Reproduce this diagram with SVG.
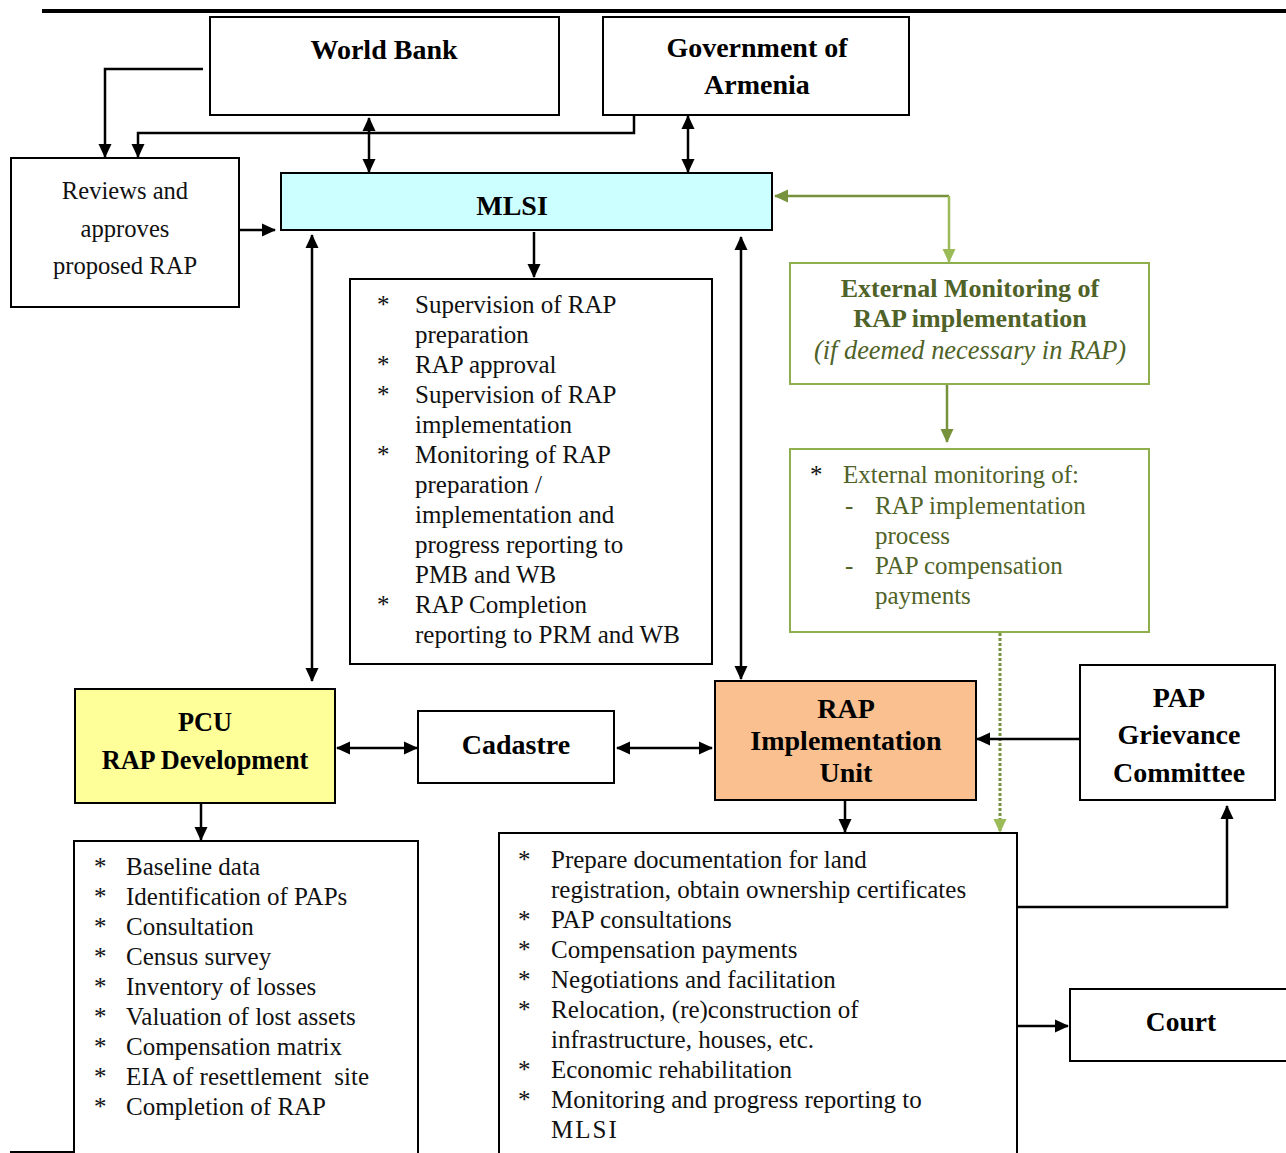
<svg xmlns="http://www.w3.org/2000/svg" width="1286" height="1153" viewBox="0 0 1286 1153">
<style>
.box{fill:#fff;stroke:#000;stroke-width:2}
.gbox{fill:#fff;stroke:#8faf4f;stroke-width:2}
.h{font-family:"Liberation Serif",serif;font-weight:bold;font-size:28px;text-anchor:middle;fill:#000}
.t{font-family:"Liberation Serif",serif;font-size:25px;fill:#111}
.g{fill:#4f6228}
.c{stroke:#000;stroke-width:2.5;fill:none}
</style>
<defs>
<marker id="ah" markerUnits="userSpaceOnUse" markerWidth="14" markerHeight="14" refX="13" refY="6.5" orient="auto-start-reverse" viewBox="0 0 14 13">
<path d="M0,0 L14,6.5 L0,13 z" fill="#000"/>
</marker>
<marker id="ahg" markerUnits="userSpaceOnUse" markerWidth="14" markerHeight="14" refX="13" refY="6.5" orient="auto-start-reverse" viewBox="0 0 14 13">
<path d="M0,0 L14,6.5 L0,13 z" fill="#76923c"/>
</marker>
<marker id="ahl" markerUnits="userSpaceOnUse" markerWidth="14" markerHeight="14" refX="13" refY="6.5" orient="auto-start-reverse" viewBox="0 0 14 13">
<path d="M0,0 L14,6.5 L0,13 z" fill="#9bbb59"/>
</marker>
</defs>

<line x1="42" y1="11" x2="1286" y2="11" stroke="#000" stroke-width="4"/>
<line x1="10" y1="1152" x2="74" y2="1152" stroke="#000" stroke-width="2"/>

<g id="connectors">
<path class="c" d="M203,69 L105,69 L105,157" marker-end="url(#ah)"/>
<path class="c" d="M634,115 L634,133 L138,133 L138,157" marker-end="url(#ah)"/>
<path class="c" d="M369,118 L369,172" marker-start="url(#ah)" marker-end="url(#ah)"/>
<path class="c" d="M688,116 L688,172" marker-start="url(#ah)" marker-end="url(#ah)"/>
<path class="c" d="M239,230 L275,230" marker-end="url(#ah)"/>
<path class="c" d="M534,232 L534,277" marker-end="url(#ah)"/>
<path class="c" d="M312,235 L312,681" marker-start="url(#ah)" marker-end="url(#ah)"/>
<path class="c" d="M741,237 L741,679" marker-start="url(#ah)" marker-end="url(#ah)"/>
<path d="M949,196 L775,196" stroke="#76923c" stroke-width="2.5" fill="none" marker-end="url(#ahg)"/>
<path d="M949,196 L949,262" stroke="#9bbb59" stroke-width="2.5" fill="none" marker-end="url(#ahl)"/>
<path d="M947,384 L947,442" stroke="#76923c" stroke-width="2.5" fill="none" marker-end="url(#ahg)"/>
<path d="M1000,633 L1000,832" stroke="#76923c" stroke-width="3" stroke-dasharray="3,2" fill="none" marker-end="url(#ahl)"/>
<path class="c" d="M337,748 L417,748" marker-start="url(#ah)" marker-end="url(#ah)"/>
<path class="c" d="M617,748 L712,748" marker-start="url(#ah)" marker-end="url(#ah)"/>
<path class="c" d="M1080,739 L977,739" marker-end="url(#ah)"/>
<path class="c" d="M845,801 L845,832" marker-end="url(#ah)"/>
<path class="c" d="M201,804 L201,840" marker-end="url(#ah)"/>
<path class="c" d="M1017,907 L1227,907 L1227,806" marker-end="url(#ah)"/>
<path class="c" d="M1017,1026 L1068,1026" marker-end="url(#ah)"/>
</g>

<g id="world-bank">
<rect class="box" x="210" y="17" width="349" height="98"/>
<text class="h" x="384" y="59">World Bank</text>
</g>

<g id="government">
<rect class="box" x="603" y="17" width="306" height="98"/>
<text class="h" x="757" y="57">Government of</text>
<text class="h" x="757" y="94">Armenia</text>
</g>

<g id="reviews">
<rect class="box" x="11" y="158" width="228" height="149"/>
<text class="t" x="125" y="199" style="font-size:24.6px;text-anchor:middle">Reviews and</text>
<text class="t" x="125" y="237" style="font-size:24.6px;text-anchor:middle">approves</text>
<text class="t" x="125" y="274" style="font-size:24.6px;text-anchor:middle">proposed RAP</text>
</g>

<g id="mlsi">
<rect x="281" y="173" width="491" height="57" fill="#ccffff" stroke="#000" stroke-width="2"/>
<text class="h" x="512" y="215">MLSI</text>
</g>

<g id="mlsi-tasks">
<rect class="box" x="350" y="279" width="362" height="385"/>
<g class="t">
<text x="377" y="313">*</text><text x="415" y="313">Supervision of RAP</text>
<text x="415" y="343">preparation</text>
<text x="377" y="373">*</text><text x="415" y="373">RAP approval</text>
<text x="377" y="403">*</text><text x="415" y="403">Supervision of RAP</text>
<text x="415" y="433">implementation</text>
<text x="377" y="463">*</text><text x="415" y="463">Monitoring of RAP</text>
<text x="415" y="493">preparation /</text>
<text x="415" y="523">implementation and</text>
<text x="415" y="553">progress reporting to</text>
<text x="415" y="583">PMB and WB</text>
<text x="377" y="613">*</text><text x="415" y="613">RAP Completion</text>
<text x="415" y="643">reporting to PRM and WB</text>
</g>
</g>

<g id="external-monitoring">
<rect class="gbox" x="790" y="263" width="359" height="121"/>
<text class="h g" x="970" y="297" style="font-size:26px">External Monitoring of</text>
<text class="h g" x="970" y="327" style="font-size:26px">RAP implementation</text>
<text class="t g" x="970" y="359" style="font-size:26.4px;font-style:italic;text-anchor:middle">(if deemed necessary in RAP)</text>
</g>

<g id="external-monitoring-tasks">
<rect class="gbox" x="790" y="449" width="359" height="183"/>
<g class="t g">
<text x="810" y="483" style="fill:#111">*</text><text x="843" y="483">External monitoring of:</text>
<text x="845" y="514">-</text><text x="875" y="514">RAP implementation</text>
<text x="875" y="544">process</text>
<text x="845" y="574">-</text><text x="875" y="574">PAP compensation</text>
<text x="875" y="604">payments</text>
</g>
</g>

<g id="pcu">
<rect x="75" y="689" width="260" height="114" fill="#ffff99" stroke="#000" stroke-width="2"/>
<text class="h" x="205" y="731" style="font-size:26.3px">PCU</text>
<text class="h" x="205" y="769" style="font-size:26.3px">RAP Development</text>
</g>

<g id="cadastre">
<rect class="box" x="418" y="711" width="196" height="72"/>
<text class="h" x="516" y="754">Cadastre</text>
</g>

<g id="rap-iu">
<rect x="715" y="681" width="261" height="119" fill="#fac090" stroke="#000" stroke-width="2"/>
<text class="h" x="846" y="718">RAP</text>
<text class="h" x="846" y="750">Implementation</text>
<text class="h" x="846" y="782">Unit</text>
</g>

<g id="grievance">
<rect class="box" x="1080" y="665" width="195" height="135"/>
<text class="h" x="1179" y="707">PAP</text>
<text class="h" x="1179" y="744">Grievance</text>
<text class="h" x="1179" y="782">Committee</text>
</g>

<g id="pcu-tasks">
<path d="M74,1153 L74,841 L418,841 L418,1153" fill="#fff" stroke="#000" stroke-width="2"/>
<g class="t">
<text x="94" y="875">*</text><text x="126" y="875">Baseline data</text>
<text x="94" y="905">*</text><text x="126" y="905">Identification of PAPs</text>
<text x="94" y="935">*</text><text x="126" y="935">Consultation</text>
<text x="94" y="965">*</text><text x="126" y="965">Census survey</text>
<text x="94" y="995">*</text><text x="126" y="995">Inventory of losses</text>
<text x="94" y="1025">*</text><text x="126" y="1025">Valuation of lost assets</text>
<text x="94" y="1055">*</text><text x="126" y="1055">Compensation matrix</text>
<text x="94" y="1085">*</text><text x="126" y="1085" style="white-space:pre">EIA of resettlement  site</text>
<text x="94" y="1115">*</text><text x="126" y="1115">Completion of RAP</text>
</g>
</g>

<g id="rap-tasks">
<path d="M499,1153 L499,833 L1017,833 L1017,1153" fill="#fff" stroke="#000" stroke-width="2"/>
<g class="t">
<text x="518" y="868">*</text><text x="551" y="868">Prepare documentation for land</text>
<text x="551" y="898">registration, obtain ownership certificates</text>
<text x="518" y="928">*</text><text x="551" y="928">PAP consultations</text>
<text x="518" y="958">*</text><text x="551" y="958">Compensation payments</text>
<text x="518" y="988">*</text><text x="551" y="988">Negotiations and facilitation</text>
<text x="518" y="1018">*</text><text x="551" y="1018">Relocation, (re)construction of</text>
<text x="551" y="1048">infrastructure, houses, etc.</text>
<text x="518" y="1078">*</text><text x="551" y="1078">Economic rehabilitation</text>
<text x="518" y="1108">*</text><text x="551" y="1108">Monitoring and progress reporting to</text>
<text x="551" y="1138" style="letter-spacing:2px">MLSI</text>
</g>
</g>

<g id="court">
<rect class="box" x="1070" y="989" width="220" height="72"/>
<text class="h" x="1181" y="1031" style="font-size:27.5px">Court</text>
</g>
</svg>
